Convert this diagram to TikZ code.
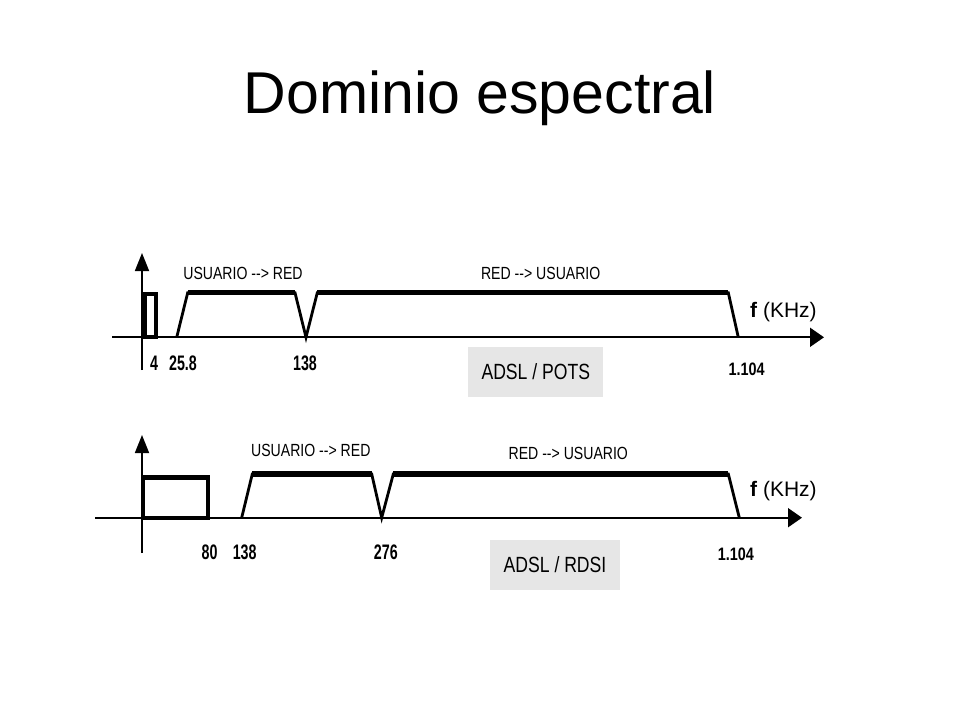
\documentclass[tikz,border=0pt]{standalone}
\usepackage{fontspec}
\setmainfont{Liberation Sans}
\newfontfamily\condfont[FakeStretch=0.8]{Liberation Sans}
\newfontfamily\numfont[FakeStretch=0.68]{Liberation Sans}
\usetikzlibrary{arrows.meta}
\definecolor{boxgray}{RGB}{230,230,230}
\tikzset{
	axis/.style={line width=1.8pt},
	haxis/.style={axis,-{Triangle[length=14pt,width=19pt]}},
	vaxis/.style={axis,-{Triangle[length=18pt,width=14pt]}},
	band/.style={line width=2.8pt,line join=miter},
	bandtop/.style={line width=5.3pt,line cap=butt},
	lbl/.style={font=\condfont\fontsize{17.6}{20}\selectfont,anchor=base,inner sep=0pt},
	tick/.style={font=\numfont\bfseries\fontsize{21}{24}\selectfont,anchor=base,inner sep=0pt},
	tickend/.style={font=\condfont\bfseries\fontsize{18}{20}\selectfont,anchor=base,inner sep=0pt},
	unit/.style={font=\fontsize{21}{24}\selectfont,anchor=base west,inner sep=0pt},
	tag/.style={fill=boxgray,inner sep=0pt,minimum height=49.5pt,text height=15.7pt,text depth=0pt,font=\condfont\fontsize{22}{24}\selectfont},
}
\begin{document}
\begin{tikzpicture}[x=1pt,y=-1pt]
	\useasboundingbox (0,0) rectangle (960,720);
	\node[font=\fontsize{59}{64}\selectfont,anchor=base] (title) at (480,113) {Dominio espectral};
	% ADSL / POTS
	\draw[vaxis] (142,370) -- (142,253);
	\draw[haxis] (112,337.3) -- (824,337.3);
	\draw[line width=4pt] (144.7,337.3) rectangle (156.3,293.7);
	\draw[band] (176.7,337.3) -- (187.7,292.7) -- (295,292.7) -- (306,337.3) -- (317.3,292.7) -- (728.3,292.7) -- (738.3,337.3);
	\draw[bandtop] (187.7,292.7) -- (295,292.7) (317.3,292.7) -- (728.3,292.7);
	\node[lbl] (urA) at (243,279.3) {USUARIO --> RED};
	\node[lbl] (ruA) at (540.7,279.3) {RED --> USUARIO};
	\node[unit] (fA) at (750,317) {\textbf{f} (KHz)};
	\node[tick] (t4) at (154,370) {4};
	\node[tick] (t25) at (183,370) {25.8};
	\node[tick] (t138A) at (305,370) {138};
	\node[tickend] (t1104A) at (746.7,375) {1.104};
	\node[tag,minimum width=135pt] (pots) at (535.8,372) {ADSL / POTS};
	% ADSL / RDSI
	\draw[vaxis] (142,553) -- (142,435);
	\draw[haxis] (95,517.7) -- (802,517.7);
	\draw[line width=4pt] (143,517.7) rectangle (208.3,477.8);
	\draw[bandtop] (141,477.8) -- (210.3,477.8);
	\draw[band] (241.7,517.7) -- (252.3,474) -- (371.7,474) -- (381.7,517.7) -- (393.3,474) -- (728.3,474) -- (739.3,517.7);
	\draw[bandtop] (252.3,474) -- (371.7,474) (393.3,474) -- (728.3,474);
	\node[lbl] (urB) at (310.8,456.7) {USUARIO --> RED};
	\node[lbl] (ruB) at (568.3,459) {RED --> USUARIO};
	\node[unit] (fB) at (750,496) {\textbf{f} (KHz)};
	\node[tick] (t80) at (209.5,559) {80};
	\node[tick] (t138B) at (244.7,559) {138};
	\node[tick] (t276) at (385.8,559) {276};
	\node[tickend] (t1104B) at (735.8,560) {1.104};
	\node[tag,minimum width=130pt,minimum height=50pt] (rdsi) at (555,565) {ADSL / RDSI};
\end{tikzpicture}
\end{document}
